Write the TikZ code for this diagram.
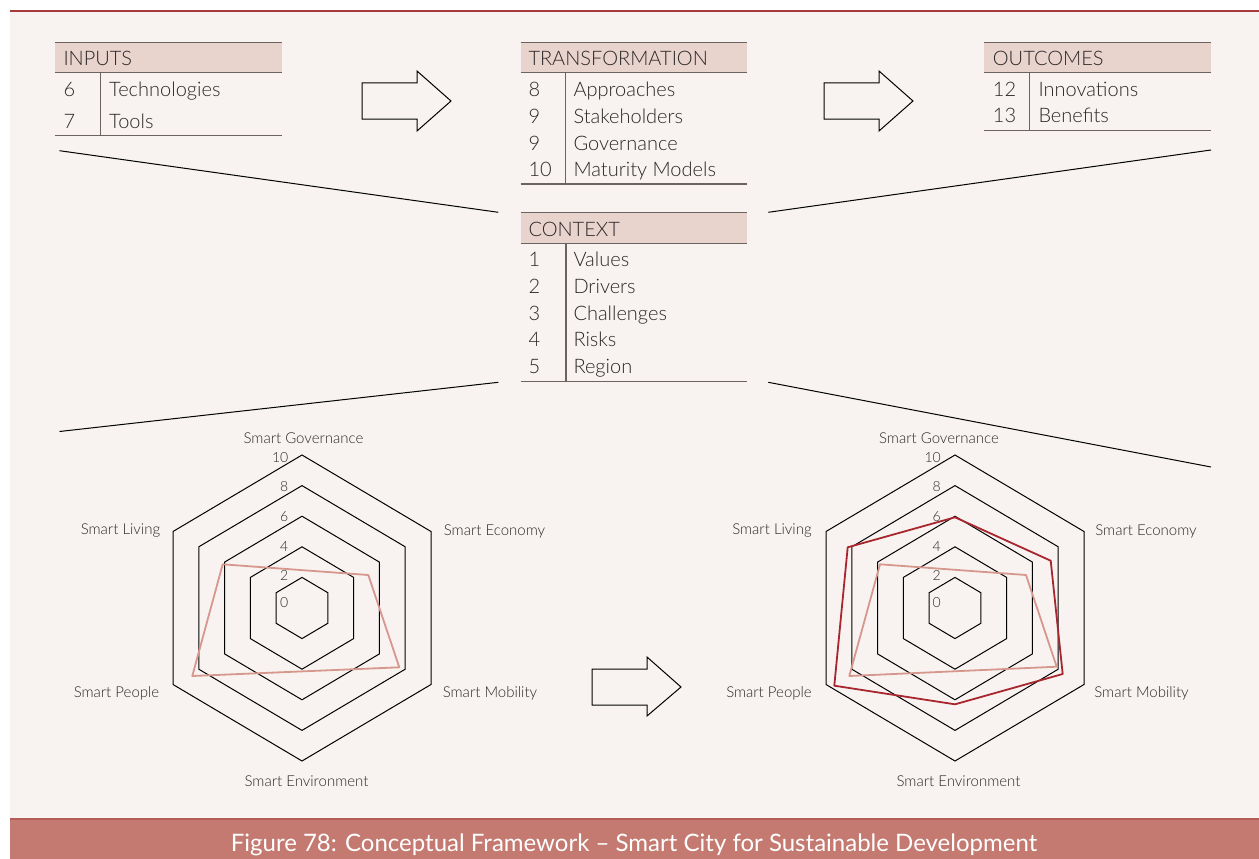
\documentclass[tikz,border=0pt]{standalone}
\usepackage{fontspec}
\setmainfont{Lato}[UprightFont=* Light]
\newfontfamily\capfont{Lato}
\definecolor{bg}{HTML}{F8F3F1}
\definecolor{hdr}{HTML}{E9D3CD}
\definecolor{tline}{HTML}{6B6360}
\definecolor{txt}{HTML}{2A2727}
\definecolor{lightp}{HTML}{D6978D}
\definecolor{darkp}{HTML}{A8262E}
\definecolor{capband}{HTML}{C47A70}
\definecolor{capline}{HTML}{B55E57}
\definecolor{topline}{HTML}{A63A3A}
\begin{document}
\begin{tikzpicture}[x=1pt,y=-1pt,
 tl/.style={draw=tline,line width=1.3pt},
 ttxt/.style={anchor=base west,inner sep=0,text=txt,font=\fontsize{20}{20}\selectfont},
 ctxt/.style={inner sep=0,text=txt,font=\fontsize{15}{15}\selectfont},
 ntxt/.style={anchor=east,inner sep=0,text=txt,font=\fontsize{14}{14}\selectfont},
 link/.style={draw=black,line width=1pt},
 grid/.style={draw=black,line width=1pt},
 before/.style={draw=lightp,line width=1.8pt,line join=round},
 after/.style={draw=darkp,line width=1.8pt,line join=round},
 bigarrow/.style={draw=black,line width=1pt}]
\useasboundingbox (0,0) rectangle (1259,859);
\fill[white] (0,0) rectangle (1259,859);
\fill[bg] (10,11) rectangle (1259,818);
\draw[topline,line width=1.2pt] (10,11) -- (1259,11);
\fill[capband] (10,818) rectangle (1259,859);
\draw[capline,line width=1.5pt] (10,819) -- (1259,819);
\node[text=white,inner sep=0,font=\capfont\fontsize{24}{24}\selectfont] (cap) at (634,845) {Figure 78: Conceptual Framework – Smart City for Sustainable Development};

% ---------- INPUTS ----------
\fill[hdr] (55,42.3) rectangle (281.7,72.7);
\draw[tl] (55,42.3) -- (281.7,42.3);
\draw[tl] (55,72.7) -- (281.7,72.7);
\draw[tl] (55,135.7) -- (281.7,135.7);
\draw[tl] (100.3,72.7) -- (100.3,135.7);
\node[ttxt] (inh) at (63.3,66) {INPUTS};
\node[ttxt] (inn1) at (63.3,96.7) {6};
\node[ttxt] (ini1) at (109,96.7) {Technologies};
\node[ttxt] (inn2) at (63.3,128.3) {7};
\node[ttxt] (ini2) at (109,128.3) {Tools};

% ---------- TRANSFORMATION ----------
\fill[hdr] (520.7,42.3) rectangle (747.3,72.7);
\draw[tl] (520.7,42.3) -- (747.3,42.3);
\draw[tl] (520.7,72.7) -- (747.3,72.7);
\draw[tl] (520.7,184) -- (747.3,184);
\draw[tl] (565.7,72.7) -- (565.7,184);
\node[ttxt] (trh) at (528.3,66) {TRANSFORMATION};
\node[ttxt] (trn1) at (528.3,96.7) {8};
\node[ttxt] (tri1) at (573.3,96.7) {Approaches};
\node[ttxt] (trn2) at (528.3,123.3) {9};
\node[ttxt] (tri2) at (573.3,123.3) {Stakeholders};
\node[ttxt] (trn3) at (528.3,150) {9};
\node[ttxt] (tri3) at (573.3,150) {Governance};
\node[ttxt] (trn4) at (528.3,176.7) {10};
\node[ttxt] (tri4) at (573.3,176.7) {Maturity Models};

% ---------- OUTCOMES ----------
\fill[hdr] (984.3,42.3) rectangle (1211,72.7);
\draw[tl] (984.3,42.3) -- (1211,42.3);
\draw[tl] (984.3,72.7) -- (1211,72.7);
\draw[tl] (984.3,130.7) -- (1211,130.7);
\draw[tl] (1029.3,72.7) -- (1029.3,130.7);
\node[ttxt] (ouh) at (992.7,66) {OUTCOMES};
\node[ttxt] (oun1) at (992.7,96.7) {12};
\node[ttxt] (oui1) at (1038.3,96.7) {Innovations};
\node[ttxt] (oun2) at (992.7,122.7) {13};
\node[ttxt] (oui2) at (1038.3,122.7) {Benefits};

% ---------- CONTEXT ----------
\fill[hdr] (520.7,212.7) rectangle (747.3,243.3);
\draw[tl] (520.7,212.7) -- (747.3,212.7);
\draw[tl] (520.7,243.3) -- (747.3,243.3);
\draw[tl] (520.7,381.7) -- (747.3,381.7);
\draw[tl] (566,243.3) -- (566,381.7);
\node[ttxt] (coh) at (528.3,236) {CONTEXT};
\node[ttxt] (con1) at (528.3,266.7) {1};
\node[ttxt] (coi1) at (573.3,266.7) {Values};
\node[ttxt] (con2) at (528.3,293.3) {2};
\node[ttxt] (coi2) at (573.3,293.3) {Drivers};
\node[ttxt] (con3) at (528.3,320) {3};
\node[ttxt] (coi3) at (573.3,320) {Challenges};
\node[ttxt] (con4) at (528.3,346.7) {4};
\node[ttxt] (coi4) at (573.3,346.7) {Risks};
\node[ttxt] (con5) at (528.3,373.3) {5};
\node[ttxt] (coi5) at (573.3,373.3) {Region};

% ---------- funnel lines ----------
\coordinate (inL) at (59.5,150.7);
\coordinate (ctxUL) at (498.3,212.3);
\coordinate (ctxUR) at (768.3,212.3);
\coordinate (ouR) at (1211,150);
\coordinate (ctxLL) at (498.3,382.3);
\coordinate (ctxLR) at (768.3,382.3);
\coordinate (chL) at (59.5,431.5);
\coordinate (chR) at (1211,467);
\draw[link] (inL) -- (ctxUL);
\draw[link] (ctxUR) -- (ouR);
\draw[link] (chL) -- (ctxLL);
\draw[link] (ctxLR) -- (chR);

% ---------- block arrows ----------
\draw[bigarrow] (362,83) -- (417,83) -- (417,71) -- (451,101) -- (417,131) -- (417,119) -- (362,119) -- cycle;
\draw[bigarrow] (824,83) -- (879,83) -- (879,71) -- (913,101) -- (879,131) -- (879,119) -- (824,119) -- cycle;
\draw[bigarrow] (592,669) -- (647,669) -- (647,657) -- (681,687) -- (647,716) -- (647,705) -- (592,705) -- cycle;

% ---------- radar grids ----------
\foreach \cx in {302,955}{
  \def\cy{608}
  \foreach \v in {2,4,6,8,10}{
    \draw[grid,line join=miter] ({\cx},{\cy-15.3*\v}) -- ({\cx+12.9*\v},{\cy-7.65*\v}) -- ({\cx+12.9*\v},{\cy+7.65*\v}) -- ({\cx},{\cy+15.3*\v}) -- ({\cx-12.9*\v},{\cy+7.65*\v}) -- ({\cx-12.9*\v},{\cy-7.65*\v}) -- cycle;
  }
}
% value labels
\node[ntxt] (lv10) at (288.5,458) {10};
\node[ntxt] (lv8) at (288.5,487) {8};
\node[ntxt] (lv6) at (288.5,517) {6};
\node[ntxt] (lv4) at (288.5,547) {4};
\node[ntxt] (lv2) at (288.5,575) {2};
\node[ntxt] (lv0) at (288.5,603) {0};
\node[ntxt] (rv10) at (941,458) {10};
\node[ntxt] (rv8) at (941,487) {8};
\node[ntxt] (rv6) at (941,517) {6};
\node[ntxt] (rv4) at (941,547) {4};
\node[ntxt] (rv2) at (941,575) {2};
\node[ntxt] (rv0) at (941,603) {0};

% axis labels
\node[ctxt] (lgov) at (303.5,438) {Smart Governance};
\node[ctxt] (lliv) at (120.5,531) {Smart Living};
\node[ctxt] (leco) at (494.5,531) {Smart Economy};
\node[ctxt] (lpeo) at (116.5,693) {Smart People};
\node[ctxt] (lmob) at (490,693) {Smart Mobility};
\node[ctxt] (lenv) at (306.5,781) {Smart Environment};
\node[ctxt] (rgov) at (939,438) {Smart Governance};
\node[ctxt] (rliv) at (772,531) {Smart Living};
\node[ctxt] (reco) at (1146,531) {Smart Economy};
\node[ctxt] (rpeo) at (769,693) {Smart People};
\node[ctxt] (rmob) at (1141.5,693) {Smart Mobility};
\node[ctxt] (renv) at (958.5,781) {Smart Environment};

% data polygons
\draw[before] (222.7,564.3) -- (368.3,575) -- (399.3,667.3) -- (192.3,676) -- cycle;
\draw[before] (880,564.3) -- (1026,575) -- (1056.7,666.7) -- (849.3,676) -- cycle;
\draw[after] (955,517.3) -- (1050.7,560.7) -- (1062.7,674) -- (955,704.3) -- (834.3,685.7) -- (847.7,547.3) -- cycle;
\end{tikzpicture}
\end{document}
